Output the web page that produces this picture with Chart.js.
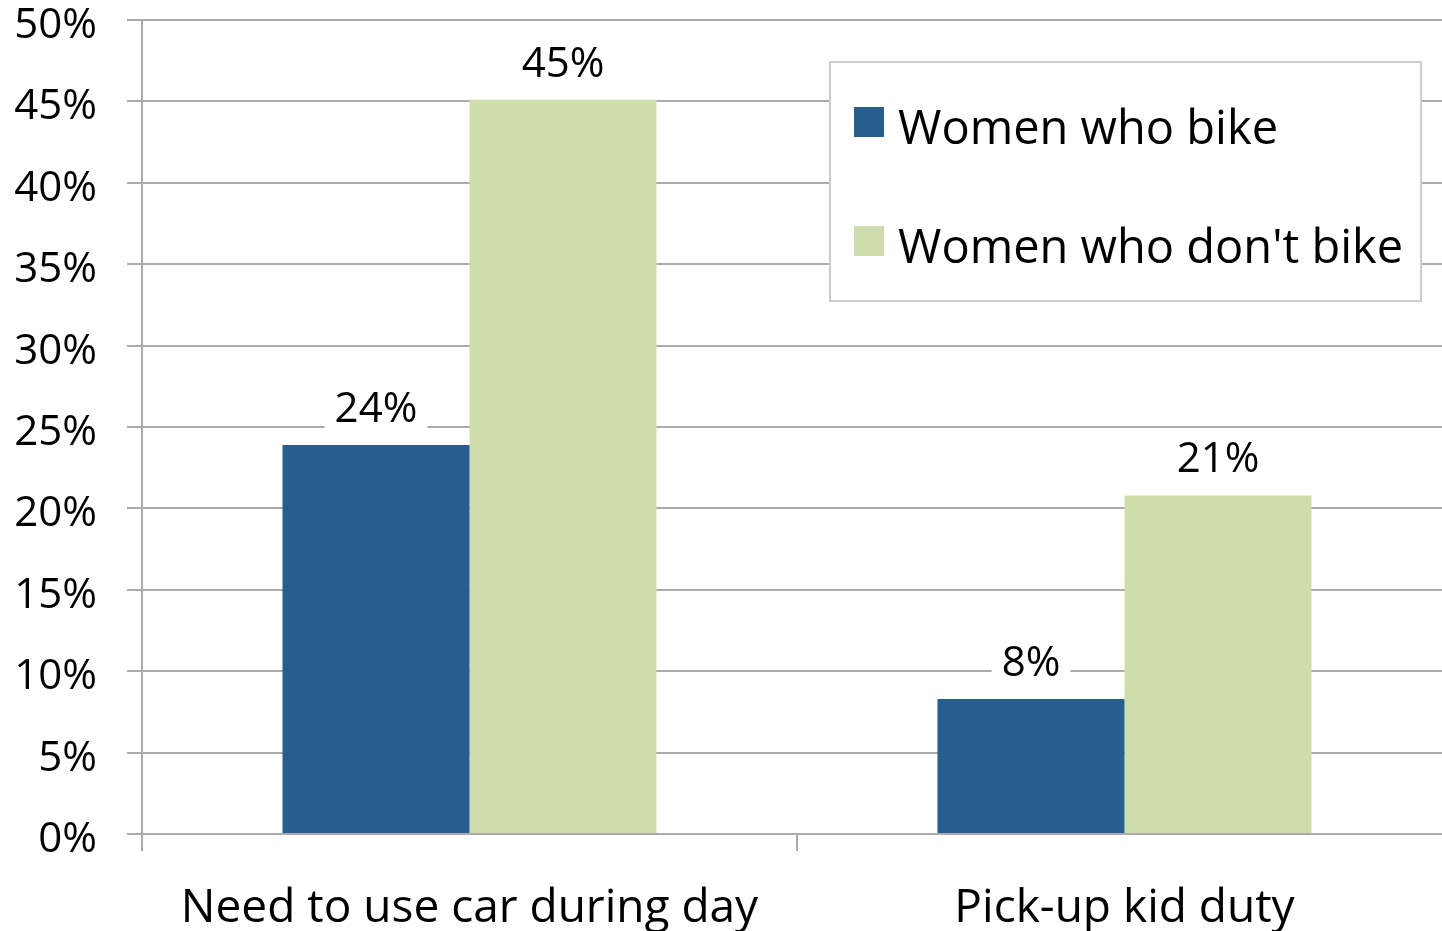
<!DOCTYPE html>
<html>
<head>
<meta charset="utf-8">
<script src="https://cdn.jsdelivr.net/npm/chart.js@4/dist/chart.umd.min.js"></script>
<style>
html, body { margin: 0; padding: 0; overflow: hidden; background: #ffffff; }
#wrap { position: absolute; left: 0; top: 0; width: 1452px; height: 931px; }
</style>
</head>
<body>
<div id="wrap"><canvas id="c"></canvas></div>
<script>
const categories = ['Need to use car during day', 'Pick-up kid duty'];
const seriesNames = ['Women who bike', "Women who don't bike"];
const womenWhoBike = [0.239, 0.083];
const womenWhoDontBike = [0.451, 0.208];
const yMin = 0, yMax = 0.5, yStep = 0.05;

const FONT = "'Open Sans', sans-serif";
const GRID = '#ABABAB';

const pct = v => Math.round(v * 100) + '%';

const dataLabels = {
  id: 'dataLabels',
  afterDatasetsDraw(chart) {
    const ctx = chart.ctx;
    ctx.save();
    ctx.font = '42px ' + FONT;
    ctx.textAlign = 'center';
    ctx.textBaseline = 'alphabetic';
    chart.data.datasets.forEach((ds, di) => {
      const meta = chart.getDatasetMeta(di);
      meta.data.forEach((bar, i) => {
        const txt = pct(ds.data[i]);
        const w = ctx.measureText(txt).width;
        const base = bar.y - 23;
        ctx.fillStyle = '#ffffff';
        ctx.fillRect(bar.x - w / 2 - 10, base - 40, w + 20, 50);
        ctx.fillStyle = '#000000';
        ctx.fillText(txt, bar.x, base);
      });
    });
    ctx.restore();
  }
};

const boxLegend = {
  id: 'boxLegend',
  afterDraw(chart) {
    const ctx = chart.ctx;
    ctx.save();
    ctx.fillStyle = '#ffffff';
    ctx.fillRect(830, 62, 591, 239);
    ctx.strokeStyle = '#CCCCCC';
    ctx.lineWidth = 2;
    ctx.strokeRect(830, 62, 591, 239);
    ctx.font = '47px ' + FONT;
    ctx.textAlign = 'left';
    ctx.textBaseline = 'alphabetic';
    chart.data.datasets.forEach((ds, i) => {
      const cy = 122 + i * 119;
      ctx.fillStyle = ds.backgroundColor;
      ctx.fillRect(854, cy - 15, 30, 30);
      ctx.fillStyle = '#000000';
      ctx.fillText(ds.label, 898, cy + 22);
    });
    ctx.restore();
  }
};

new Chart(document.getElementById('c'), {
  type: 'bar',
  data: {
    labels: categories,
    datasets: [
      { label: seriesNames[0], data: womenWhoBike, backgroundColor: '#285D8F' },
      { label: seriesNames[1], data: womenWhoDontBike, backgroundColor: '#CDDDAC' }
    ]
  },
  options: {
    responsive: true,
    maintainAspectRatio: false,
    animation: false,
    devicePixelRatio: 1,
    layout: { padding: { top: 20, right: 0, left: 0, bottom: 0 } },
    datasets: { bar: { categoryPercentage: 0.571, barPercentage: 1.0 } },
    plugins: { legend: { display: false }, tooltip: { enabled: false } },
    scales: {
      x: {
        offset: true,
        grid: { offset: true, drawOnChartArea: false, drawTicks: true, tickLength: 17, color: GRID, lineWidth: 2 },
        border: { display: true, color: GRID, width: 2 },
        ticks: { font: { family: FONT, size: 46 }, color: '#000000', padding: 30, maxRotation: 0 },
        afterFit(s) { s.height = 97; s.paddingLeft = 0; s.paddingRight = 0; }
      },
      y: {
        min: yMin, max: yMax,
        grid: { color: GRID, lineWidth: 2, tickLength: 15, drawTicks: true },
        border: { display: true, color: GRID, width: 2 },
        ticks: {
          stepSize: yStep,
          font: { family: FONT, size: 42 },
          color: '#000000',
          padding: 30,
          labelOffset: 6,
          callback: v => pct(v)
        },
        afterFit(s) { s.width = 142; s.paddingTop = 0; s.paddingBottom = 0; }
      }
    }
  },
  plugins: [dataLabels, boxLegend]
});
</script>
</body>
</html>
